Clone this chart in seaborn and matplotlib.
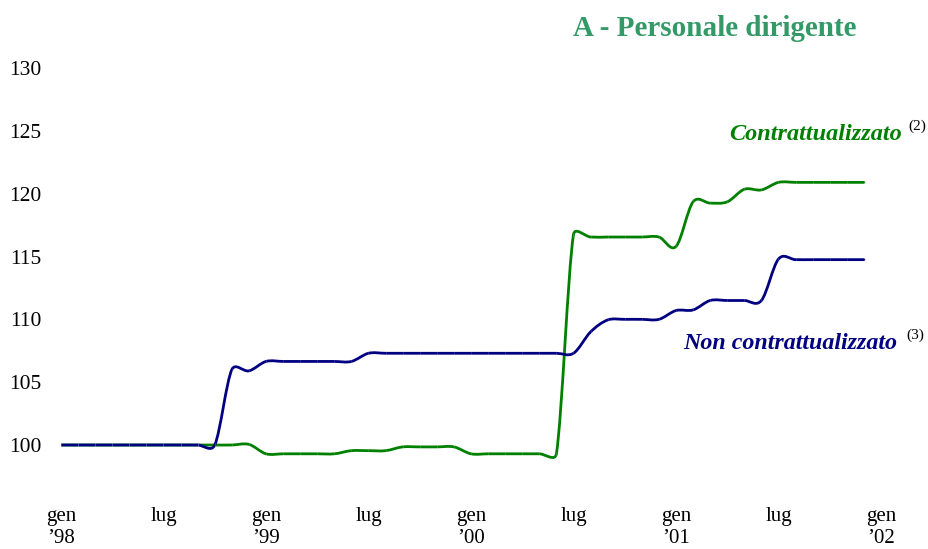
import numpy as np
import pandas as pd
import matplotlib
matplotlib.use("Agg")
import matplotlib.pyplot as plt
from matplotlib.path import Path
from matplotlib.patches import PathPatch
import seaborn as sns

# ---------------- data (monthly, gen '98 .. dic '01) ----------------
months = list(range(48))
contrattualizzato = (
    [100.0] * 11 + [100.05] + [99.3] * 5 + [99.55] * 3 + [99.85] * 4 + [99.3] * 6
    + [116.75] + [116.55] * 5 + [115.8, 119.35, 119.25, 119.35, 120.35, 120.3] + [120.9] * 6
)
non_contrattualizzato = (
    [100.0] * 10 + [106.0, 105.9] + [106.65] * 6 + [107.3] * 13
    + [109.0, 109.95] + [110.0] * 3 + [110.7, 110.75] + [111.5] * 4 + [114.8] + [114.75] * 5
)
tick_pos = [0, 6, 12, 18, 24, 30, 36, 42, 48]
tick_labels = ["gen\n\u201998", "lug", "gen\n\u201999", "lug", "gen\n\u201900",
               "lug", "gen\n\u201901", "lug", "gen\n\u201902"]
y_ticks = [100, 105, 110, 115, 120, 125, 130]

GREEN = "#008000"
NAVY = "#000080"
TITLE_GREEN = "#339966"

sns.set_theme(style="white")
plt.rcParams["font.family"] = ["Liberation Serif", "DejaVu Serif"]

W, H = 929, 549
fig = plt.figure(figsize=(W / 100, H / 100), dpi=100)
ax = fig.add_axes([61 / W, 1 - 489 / H, (881 - 61) / W, (489 - 68) / H])
XMIN, XMAX, YMIN, YMAX = 0, 48, 96.5, 130
ax.set_xlim(XMIN, XMAX)
ax.set_ylim(YMIN, YMAX)

# pixel scales (for Excel-like smoothing in screen space)
sx = (881 - 61) / (XMAX - XMIN)
sy = (489 - 68) / (YMAX - YMIN)


def smooth_path(xs, ys, k=0.5):
    P = np.column_stack([np.asarray(xs, float) * sx, np.asarray(ys, float) * sy])
    n = len(P)
    T = np.zeros_like(P)
    for i in range(1, n - 1):
        T[i] = (P[i + 1] - P[i - 1]) / 6.0
    verts = [P[0]]
    codes = [Path.MOVETO]
    for i in range(n - 1):
        seg = np.linalg.norm(P[i + 1] - P[i])
        t1 = T[i].copy()
        t2 = T[i + 1].copy()
        for t in (t1, t2):
            L = np.linalg.norm(t)
            if L > k * seg and L > 0:
                t *= k * seg / L
        verts += [P[i] + t1, P[i + 1] - t2, P[i + 1]]
        codes += [Path.CURVE4] * 3
    V = np.array(verts)
    V[:, 0] /= sx
    V[:, 1] /= sy
    return Path(V, codes)


df = pd.DataFrame({"mese": months * 2,
                   "indice": contrattualizzato + non_contrattualizzato,
                   "serie": ["Contrattualizzato"] * 48 + ["Non contrattualizzato"] * 48})

for name, vals, col in [("Contrattualizzato", contrattualizzato, GREEN),
                        ("Non contrattualizzato", non_contrattualizzato, NAVY)]:
    ax.add_patch(PathPatch(smooth_path(months, vals), fill=False, edgecolor=col,
                           lw=2.0, capstyle="round", joinstyle="round", zorder=3))

# very faint point ticks on the lines
sns.lineplot(data=df, x="mese", y="indice", hue="serie",
             palette={"Contrattualizzato": GREEN, "Non contrattualizzato": NAVY},
             linestyle="none", marker="|", markersize=2.5, markeredgewidth=0.5,
             alpha=0.2, legend=False, ax=ax, zorder=4)

for s in ax.spines.values():
    s.set_visible(False)
ax.grid(False)
ax.set_xlabel("")
ax.set_ylabel("")
ax.set_xticks(tick_pos)
ax.set_xticklabels(tick_labels, fontsize=15, linespacing=1.2)
ax.set_yticks(y_ticks)
ax.set_yticklabels([str(v) for v in y_ticks], fontsize=15.5)
ax.tick_params(axis="y", length=0, pad=14, colors="black")
ax.tick_params(axis="x", length=0, pad=13, colors="black")

# labels
ax.text(49.2, 124.7, "Contrattualizzato", color=GREEN, fontsize=17.5,
        fontweight="bold", fontstyle="italic", ha="right", va="center")
ax.text(49.6, 125.35, "(2)", color="black", fontsize=11, ha="left", va="center")
ax.text(48.95, 108.1, "Non contrattualizzato", color=NAVY, fontsize=17.3,
        fontweight="bold", fontstyle="italic", ha="right", va="center")
ax.text(49.5, 108.75, "(3)", color="black", fontsize=11, ha="left", va="center")

fig.text(715 / W, 1 - 28 / H, "A - Personale dirigente", color=TITLE_GREEN,
         fontsize=21, fontweight="bold", ha="center", va="center")

fig.savefig("out.png", dpi=100)
